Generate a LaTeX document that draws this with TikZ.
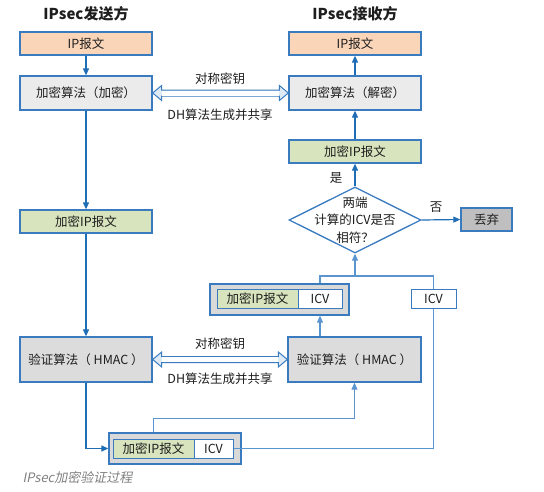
\documentclass[tikz,border=0pt]{standalone}
\usepackage{fontspec}
\setmainfont{Noto Sans CJK SC}[ItalicFont=Noto Sans CJK SC, ItalicFeatures={FakeSlant=0.2}]
\usetikzlibrary{shapes.geometric,arrows.meta,calc}

\definecolor{bd}{HTML}{3A7BC0}
\definecolor{ln}{HTML}{1F6DB5}
\definecolor{lt}{HTML}{5B95CF}
\definecolor{pk}{HTML}{FBD5B8}
\definecolor{g1}{HTML}{EBEBEB}
\definecolor{g2}{HTML}{DCDCDC}
\definecolor{g3}{HTML}{BFBFBF}
\definecolor{g4}{HTML}{D9D9D9}
\definecolor{gr}{HTML}{D7E4BD}
\definecolor{hd}{HTML}{DDEAF6}
\definecolor{tx}{HTML}{1E1E1E}

\tikzstyle{b1} = [draw=bd, line width=1.3pt, minimum width=132pt, inner sep=0pt, text=tx, font=\fontsize{12.5}{14}\selectfont]
\tikzstyle{b2} = [draw=bd, line width=1pt, minimum height=19pt, inner sep=0pt, text=tx, font=\fontsize{12.5}{14}\selectfont]
\tikzstyle{t1} = [font=\bfseries\fontsize{15}{17}\selectfont, text=tx]
\tikzstyle{l1} = [font=\fontsize{12.5}{14}\selectfont, text=tx]
\tikzstyle{a1} = [draw=ln, line width=1.2pt]
\tikzstyle{a2} = [draw=lt, line width=1.1pt]

% hollow double arrow between two nodes
\newcommand{\keyarrow}[2]{
  \draw[draw=bd, line width=1pt, fill=hd, line join=miter] let \p1=(#1.east), \p2=(#2.west) in
    (\x1,\y1) -- (\x1+9pt,\y1+7.5pt) -- (\x1+9pt,\y1+3pt) -- (\x2-9pt,\y1+3pt)
    -- (\x2-9pt,\y1+7.5pt) -- (\x2,\y1) -- (\x2-9pt,\y1-7.5pt) -- (\x2-9pt,\y1-3pt)
    -- (\x1+9pt,\y1-3pt) -- (\x1+9pt,\y1-7.5pt) -- cycle;
  \fill[white] let \p1=(#1.east), \p2=(#2.west) in
    (\x1+9.6pt,\y1-2.5pt) rectangle (\x2-9.6pt,\y1+2.5pt);
}

\begin{document}
\begin{tikzpicture}[x=1pt, y=-1pt, >={Triangle[length=7pt,width=6pt]}]
  \useasboundingbox (0,0) rectangle (544,491);
  % sender side
  \node[t1] (ts) at (86,14) {IPsec发送方};
  \node[b1, fill=pk, minimum height=23pt] (ipS) at (86,43.5) {IP报文};
  \node[b1, fill=g1, minimum height=34pt] (encS) at (86,93) {加密算法（加密）};
  \node[b1, fill=gr, minimum height=23pt] (cipS) at (86,221.5) {加密IP报文};
  \node[b1, fill=g2, minimum height=45pt] (macS) at (86,359.5) {验证算法（ HMAC ）};
  % receiver side
  \node[t1] (tr) at (355,14) {IPsec接收方};
  \node[b1, fill=pk, minimum height=23pt] (ipR) at (355,43.5) {IP报文};
  \node[b1, fill=g1, minimum height=34pt] (decR) at (355,93) {加密算法（解密）};
  \node[b1, fill=gr, minimum height=23pt] (cipR) at (355,151.5) {加密IP报文};
  \node[diamond, draw=bd, line width=1.3pt, fill=white, inner sep=0pt,
    minimum width=132pt, minimum height=66pt] (chk) at (355,220) {};
  \node[l1, align=center, font=\fontsize{12.5}{17.5}\selectfont] (chkT) at (chk) {两端\\计算的ICV是否\\相符？};
  \node[b1, fill=g3, minimum width=51pt, minimum height=23pt] (drop) at (486.5,219.5) {丢弃};
  \node[b1, fill=g2, minimum width=133pt, minimum height=45pt] (macR) at (354.5,359.5) {验证算法（ HMAC ）};
  % packet groups
  \node[draw=bd, line width=1.3pt, fill=g4, minimum width=139pt, minimum height=31pt] (grpR) at (279.5,299.5) {};
  \node[b2, fill=gr, minimum width=81pt] (cipG1) at (257.5,298.5) {加密IP报文};
  \node[b2, fill=white, minimum width=44pt] (icvG1) at (320,298.5) {ICV};
  \node[b2, fill=white, minimum width=45pt] (icvR) at (433.5,298.5) {ICV};
  \node[draw=bd, line width=1.3pt, fill=g4, minimum width=132pt, minimum height=31pt] (grpS) at (175,448.5) {};
  \node[b2, fill=gr, minimum width=81pt] (cipG2) at (153.5,448.5) {加密IP报文};
  \node[b2, fill=white, minimum width=39pt] (icvG2) at (213.5,448.5) {ICV};
  \coordinate (jn) at (355,276);
  % key exchange
  \keyarrow{encS}{decR}
  \node[l1] (k1) at (220,79) {对称密钥};
  \node[l1] (d1) at (220,115) {DH算法生成并共享};
  \keyarrow{macS}{macR}
  \node[l1] (k2) at (220,344) {对称密钥};
  \node[l1] (d2) at (220,379) {DH算法生成并共享};
  % flow
  \draw[a1, ->] (ipS) -- (encS);
  \draw[a1, ->] (encS) -- (cipS);
  \draw[a1, ->] (cipS) -- (macS);
  \draw[a1, ->] (macS.south) |- (grpS.west);
  \draw[a2, ->] (grpS.north -| cipG2) -- ++(0,-14) -| (macR.south);
  \draw[a2] (icvG2.east) -| (icvR.south);
  \draw[a2, ->] (macR.north -| icvG1) -- (grpR.south -| icvG1);
  \draw[a2] (grpR.north -| icvG1) |- (jn) -| (icvR.north);
  \draw[a2, ->] (jn) -- (chk.south);
  \draw[a1, ->] (chk.north) -- (cipR);
  \node[l1] (yes) at (336,178) {是};
  \draw[a1, ->] (chk.east) -- (drop.west);
  \node[l1] (no) at (436,207) {否};
  \draw[a1, ->] (cipR) -- (decR);
  \draw[a1, ->] (decR) -- (ipR);
  \node[anchor=west, text=gray, font=\itshape\fontsize{13}{15}\selectfont] (cap) at (19,477) {IPsec加密验证过程};
\end{tikzpicture}
\end{document}
